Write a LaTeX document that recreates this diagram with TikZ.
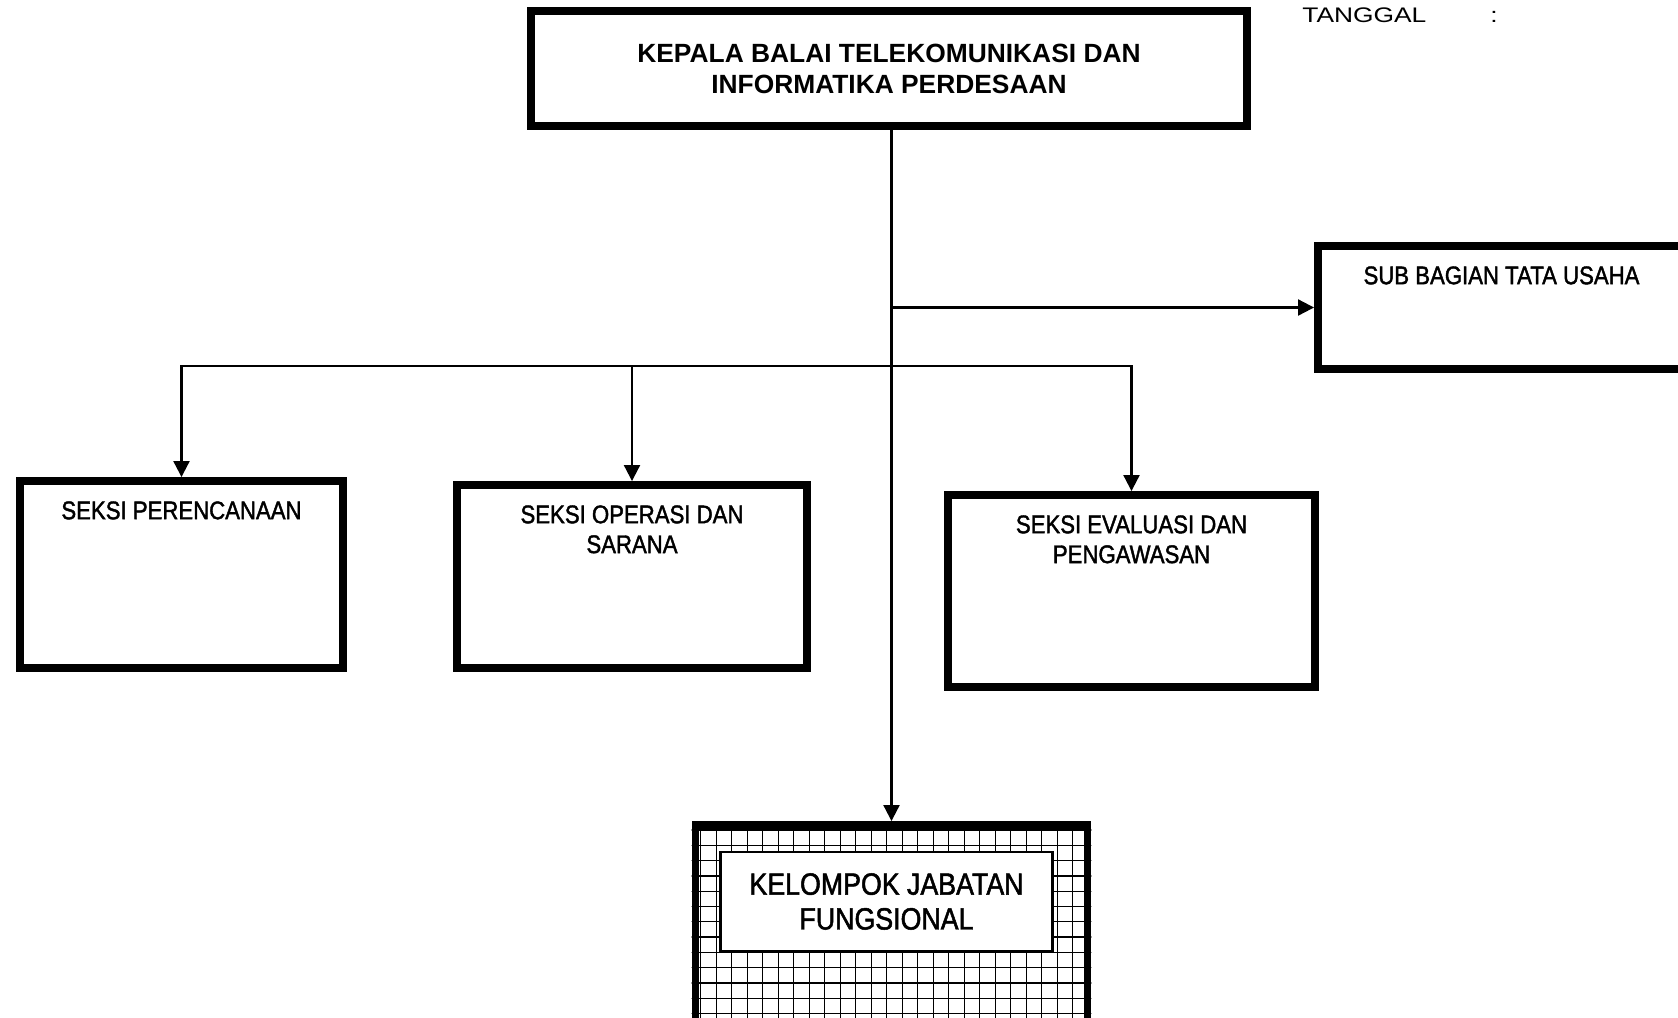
\documentclass[tikz,border=0pt]{standalone}
\usepackage{fontspec}
\setmainfont{Liberation Sans}
\newfontfamily\narrowfont[FakeStretch=0.87, FakeBold=1.6]{Liberation Sans}
\newfontfamily\widefont[FakeStretch=1.25]{Liberation Sans}
\usetikzlibrary{arrows.meta}

\begin{document}
\begin{tikzpicture}[>={Triangle[length=0.32cm, width=0.32cm]},
				head_box/.style = {draw, line width=4.5pt, inner sep=0pt, align=center, font=\bfseries\fontsize{15}{17.6}\selectfont},
				unit_box/.style = {draw, line width=4.5pt, inner sep=0pt},
				unit_name/.style = {anchor=north, yshift=-0.48cm, inner sep=0pt, align=center, font=\narrowfont\fontsize{14.5}{17}\selectfont},
				link_line/.style = {line width=1.2pt},
				trunk/.style = {line width=1.7pt},
				grid_line/.style = {line width=0.75pt}
			]
			\useasboundingbox (0,0) rectangle (33.56,-20.34);
			\clip (0,0) rectangle (33.56,-20.34);
			\node[head_box, minimum width=14.32cm, minimum height=2.30cm] (kepala) at (17.78,-1.37)
				{KEPALA BALAI TELEKOMUNIKASI DAN\\INFORMATIKA PERDESAAN};
			\node[anchor=base west, inner sep=0pt, font=\widefont\fontsize{12}{14}\selectfont] (tanggal) at (26.04,-0.45)
				{TANGGAL\hspace{1.28cm}:};
			\node[unit_box, minimum width=7.34cm, minimum height=2.46cm,
				label={[unit_name]north:SUB BAGIAN TATA USAHA}] (tatausaha) at (30.03,-6.15) {};
			\node[unit_box, minimum width=6.46cm, minimum height=3.74cm,
				label={[unit_name]north:SEKSI PERENCANAAN}] (perencanaan) at (3.63,-11.49) {};
			\node[unit_box, minimum width=7.00cm, minimum height=3.66cm,
				label={[unit_name]north:{SEKSI OPERASI DAN\\SARANA}}] (operasi) at (12.64,-11.53) {};
			\node[unit_box, minimum width=7.34cm, minimum height=3.84cm,
				label={[unit_name]north:{SEKSI EVALUASI DAN\\PENGAWASAN}}] (evaluasi) at (22.63,-11.82) {};
			\node[unit_box, minimum width=7.84cm, minimum height=4.30cm] (fungsional) at (17.83,-18.65) {};
			\begin{scope}
				\clip (fungsional.south west) rectangle (fungsional.north east);
				\foreach \i in {0,...,25}
					\draw[grid_line] (14.014+0.31*\i,-16.4) -- ++(0,-4.6);
				\foreach \j in {0,...,13}
					\draw[grid_line] (13.8,-16.6-0.306*\j) -- ++(8.1,0);
			\end{scope}
			\node[draw, fill=white, line width=1.4pt, minimum width=6.64cm, minimum height=1.99cm, inner sep=0pt,
				align=center, font=\narrowfont\fontsize{17.5}{19.8}\selectfont] (kelompok) at (17.73,-18.03)
				{KELOMPOK JABATAN\\FUNGSIONAL};
			\coordinate (junction) at (17.83,-7.32);
			\draw[trunk] (kepala.south -| junction) -- (junction);
			\draw[link_line, ->] (junction) -- (fungsional.north);
			\draw[link_line, ->] (tatausaha.west -| junction) -- (tatausaha.west);
			\draw[link_line, ->] (junction) -| (perencanaan.north);
			\draw[link_line, ->] (junction) -| (operasi.north);
			\draw[link_line, ->] (junction) -| (evaluasi.north);
		\end{tikzpicture}
\end{document}
